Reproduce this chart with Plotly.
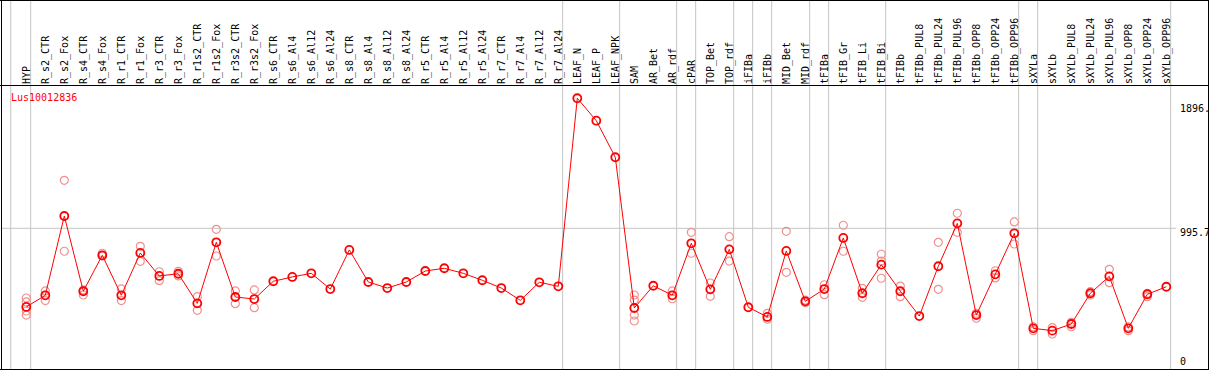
import plotly.graph_objects as go

categories = ["HYP", "R_s2_CTR", "R_s2_Fox", "R_s4_CTR", "R_s4_Fox", "R_r1_CTR", "R_r1_Fox",
              "R_r3_CTR", "R_r3_Fox", "R_r1s2_CTR", "R_r1s2_Fox", "R_r3s2_CTR", "R_r3s2_Fox",
              "R_s6_CTR", "R_s6_Al4", "R_s6_Al12", "R_s6_Al24", "R_s8_CTR", "R_s8_Al4", "R_s8_Al12",
              "R_s8_Al24", "R_r5_CTR", "R_r5_Al4", "R_r5_Al12", "R_r5_Al24", "R_r7_CTR", "R_r7_Al4",
              "R_r7_Al12", "R_r7_Al24", "LEAF_N", "LEAF_P", "LEAF_NPK", "SAM", "AR_Bet", "AR_rdf",
              "cPAR", "TOP_Bet", "TOP_rdf", "iFIBa", "iFIBb", "MID_Bet", "MID_rdf", "tFIBa",
              "tFIB_Gr", "tFIB_Li", "tFIB_Bi", "tFIBb", "tFIBb_PUL8", "tFIBb_PUL24", "tFIBb_PUL96",
              "tFIBb_OPP8", "tFIBb_OPP24", "tFIBb_OPP96", "sXYLa", "sXYLb", "sXYLb_PUL8",
              "sXYLb_PUL24", "sXYLb_PUL96", "sXYLb_OPP8", "sXYLb_OPP24", "sXYLb_OPP96"]

mean_values = [451, 532, 1081, 560, 809, 532, 825, 666, 681, 476, 899, 520, 506,
               629, 659, 684, 575, 846, 624, 582, 624, 700, 719, 684, 636, 582, 497, 622, 594,
               1896.6, 1741, 1488, 444, 598, 532, 892, 573, 850, 449, 382, 839, 490, 575,
               929, 546, 744, 560, 388, 733, 1030, 395, 677, 961, 303, 287, 333,
               546, 663, 303, 539, 591]

replicates = {
    "HYP": [513, 486, 423, 395],
    "R_s2_CTR": [562, 495],
    "R_s2_Fox": [1328, 837],
    "R_s4_CTR": [569, 534],
    "R_s4_Fox": [823, 804],
    "R_r1_CTR": [576, 495],
    "R_r1_Fox": [871, 767],
    "R_r3_CTR": [695, 633],
    "R_r3_Fox": [698, 666],
    "R_r1s2_CTR": [522, 428],
    "R_r1s2_Fox": [989, 804],
    "R_r3s2_CTR": [562, 474],
    "R_r3s2_Fox": [569, 446],
    "SAM": [534, 499, 395, 354],
    "AR_rdf": [562, 508],
    "cPAR": [968, 823],
    "TOP_Bet": [617, 525],
    "TOP_rdf": [938, 769],
    "iFIBb": [407, 366],
    "MID_Bet": [975, 691],
    "MID_rdf": [499, 481],
    "tFIBa": [605, 536],
    "tFIB_Gr": [1017, 837],
    "tFIB_Li": [580, 518],
    "tFIB_Bi": [816, 769, 650],
    "tFIBb": [596, 522],
    "tFIBb_PUL24": [899, 573],
    "tFIBb_PUL96": [1100, 968],
    "tFIBb_OPP8": [407, 373],
    "tFIBb_OPP24": [702, 652],
    "tFIBb_OPP96": [1040, 887],
    "sXYLa": [314, 287],
    "sXYLb": [308, 264],
    "sXYLb_PUL8": [345, 314],
    "sXYLb_PUL24": [557, 534],
    "sXYLb_PUL96": [712, 619],
    "sXYLb_OPP8": [314, 287],
    "sXYLb_OPP24": [546, 522],
}

# group separators drawn after these category indices
separator_after = [0, 28, 31, 34, 35, 37, 38, 39, 41, 42, 45, 52, 53, 60]
gene_name = "Lus10012836"
y_tick_values = [1896.6, 995.7, 0]
y_tick_labels = ["1896.", "995.7", "0"]
mid_line_value = 995.7

W, H = 1209, 370
FONT = "DejaVu Sans Mono"

x_idx = list(range(len(categories)))
rep_x, rep_y = [], []
for i, c in enumerate(categories):
    for v in replicates.get(c, []):
        rep_x.append(i)
        rep_y.append(v)

fig = go.Figure()
fig.add_trace(go.Scatter(x=rep_x, y=rep_y, mode="markers",
                         marker=dict(symbol="circle-open", size=8, color="#f09090",
                                     line=dict(width=1.2, color="#f09090")),
                         hoverinfo="skip", showlegend=False))
fig.add_trace(go.Scatter(x=x_idx, y=mean_values, mode="lines+markers",
                         line=dict(color="#ff0000", width=1),
                         marker=dict(symbol="circle-open", size=8, color="#ff0000",
                                     line=dict(width=1.8, color="#ee0000")),
                         showlegend=False))

x0, x1 = -1.384, 62.247
top_px = 85
ydom_top = 1 - top_px / H


def px_to_paper_y(py):
    return 1 - py / H


def px_to_paper_x(px):
    return px / W


shapes = []
gray = "#c4c4c4"
for xv in [-0.82] + [i + 0.23 for i in separator_after]:
    shapes.append(dict(type="line", xref="x", yref="paper", x0=xv, x1=xv, y0=0, y1=1,
                       line=dict(color=gray, width=1), layer="below"))
shapes.append(dict(type="line", xref="paper", yref="y", x0=px_to_paper_x(1), x1=px_to_paper_x(1176),
                   y0=mid_line_value, y1=mid_line_value, line=dict(color=gray, width=1), layer="below"))
blk = dict(color="black", width=1)
for py in [0.5, 85.5, 369.5]:
    shapes.append(dict(type="line", xref="paper", yref="paper", x0=0, x1=1,
                       y0=px_to_paper_y(py), y1=px_to_paper_y(py), line=blk))
for px in [1.5, 1208.5]:
    shapes.append(dict(type="line", xref="paper", yref="paper", x0=px_to_paper_x(px), x1=px_to_paper_x(px),
                       y0=0, y1=1, line=blk))

annotations = [dict(text=gene_name, xref="paper", yref="paper", x=px_to_paper_x(9), y=px_to_paper_y(97),
                    xanchor="left", yanchor="middle", showarrow=False,
                    font=dict(family=FONT, size=10, color="#ff0000"))]
tick_px = [108, 232.3, 361.7]
for lab, py in zip(y_tick_labels, tick_px):
    annotations.append(dict(text=lab, xref="paper", yref="paper", x=px_to_paper_x(1177.5), y=px_to_paper_y(py),
                            xanchor="left", yanchor="middle", showarrow=False,
                            font=dict(family=FONT, size=10, color="black")))

fig.update_layout(
    width=W, height=H,
    margin=dict(l=0, r=0, t=0, b=0, pad=0),
    paper_bgcolor="white", plot_bgcolor="white",
    xaxis=dict(range=[x0, x1], domain=[0, 1], side="top", tickmode="array",
               tickvals=x_idx, ticktext=categories, tickangle=-90, ticks="",
               showgrid=False, zeroline=False, showline=False,
               tickfont=dict(family=FONT, size=10, color="black")),
    yaxis=dict(range=[14.54, 1988.2], domain=[0, ydom_top], showgrid=False, zeroline=False,
               showline=False, showticklabels=False, ticks=""),
    shapes=shapes, annotations=annotations,
)

fig.write_html("out.html", config={"displayModeBar": False},
               post_script="document.body.style.margin='0';document.body.style.padding='0';"
                           "document.body.style.overflow='hidden';")
